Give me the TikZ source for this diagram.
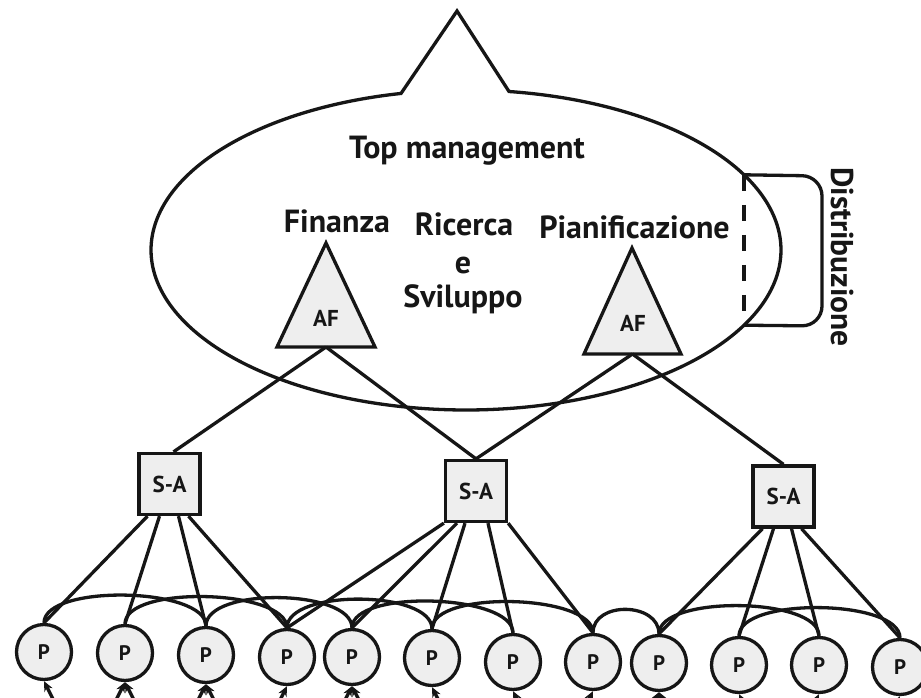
\documentclass[tikz,border=0pt]{standalone}
\usepackage{fontspec}
\setmainfont{PT Sans}
\usetikzlibrary{arrows.meta,calc}
\definecolor{ink}{HTML}{161616}
\definecolor{shade}{HTML}{EEEEEE}
\begin{document}
\begin{tikzpicture}[x=1pt,y=-1pt,line width=3.3pt,draw=ink,
  lbl/.style={font=\bfseries\fontsize{32}{34}\selectfont, anchor=base, inner sep=0pt, text=ink},
  aflbl/.style={font=\bfseries\fontsize{23}{23}\selectfont, inner sep=0pt, text=ink},
  sabox/.style={draw=ink, fill=shade, minimum size=61pt, inner sep=0pt,
    font=\bfseries\fontsize{23}{23}\selectfont, text=ink},
  pcirc/.style={circle, draw=ink, fill=shade, minimum size=55pt, inner sep=0pt,
    font=\bfseries\fontsize{21}{21}\selectfont, text=ink},
  link/.style={draw=ink},
  tie/.style={draw=ink},
  feed/.style={draw=ink, -{Stealth[length=10pt,width=9pt]}}]
\useasboundingbox (0,0) rectangle (921,698);
\clip (0,0) rectangle (921,698);
\fill[white] (0,0) rectangle (921,698);

% top management: ellipse with a spike on top
\draw[line join=miter] (457,11) -- (509.0,91.5)
  -- plot[domain=-82.15:258.1, samples=240, smooth] ({466+315*cos(\x)},{250+160*sin(\x)})
  -- cycle;

% distribution: dashed chord and bracket
\coordinate (dtop) at (744,174.8);
\coordinate (dbot) at (744,325.2);
\draw[dash pattern=on 16pt off 14pt] (dtop) -- (dbot);
\draw[rounded corners=20pt] (dtop) -- (822,176) -- (822,326) -- (dbot);
\node[font=\bfseries\fontsize{31.5}{33}\selectfont, rotate=-90, inner sep=0pt, text=ink] (distr) at (842,257) {Distribuzione};

% labels inside the ellipse
\node[lbl] (top) at (467,158) {Top management};
\node[lbl] (fin) at (337,232) {Finanza};
\node[lbl] (ric) at (464,235) {Ricerca};
\node[lbl] (ric2) at (463,273) {e};
\node[lbl] (ric3) at (463,307) {Sviluppo};
\node[lbl] (pian) at (634.5,238) {Pianificazione};

% staff triangles
\filldraw[fill=shade, line join=miter] (326,243) -- (375,347) -- (277,347) -- cycle;
\filldraw[fill=shade, line join=miter] (632,248) -- (681,354) -- (584,354) -- cycle;
\node[aflbl] (afL) at (326,318) {AF};
\node[aflbl] (afR) at (633,323) {AF};
\coordinate (afLb) at (326,347);
\coordinate (afRb) at (632.5,354);

% intermediate units
\node[sabox] (saL) at (169.5,484) {S-A};
\node[sabox] (saM) at (476,491) {S-A};
\node[sabox] (saR) at (783.5,496.5) {S-A};

\draw[link] (afLb) -- ([xshift=4pt]saL.north);
\draw[link] (afLb) -- (saM.north);
\draw[link] (afRb) -- (saM.north);
\draw[link] (afRb) -- (saR.north);

% operating units
\foreach \n/\x/\y in {1/44/652, 2/125/653, 3/206/655, 4/287/657, 5/352/657, 6/432/658,
                     7/513/662, 8/593/662, 9/659/663, 10/739/665, 11/819/665, 12/900/667}
  \node[pcirc] (P\n) at (\x,\y) {P};

% links from the units to the operating cores
\draw[link] ([xshift=-22pt]saL.south) -- (P1.north);
\draw[link] ([xshift=-10pt]saL.south) -- (P2.north);
\draw[link] ([xshift=9pt]saL.south) -- (P3.north);
\draw[link] ([xshift=19pt]saL.south) -- (P4.north);
\draw[link] (saM.south west) -- (P4.north);
\draw[link] ([xshift=-19pt]saM.south) -- (P5.north);
\draw[link] ([xshift=-11pt]saM.south) -- (P6.north);
\draw[link] ([xshift=12pt]saM.south) -- (P7.north);
\draw[link] (saM.south east) -- (P8.north);
\draw[link] ([xshift=-21pt]saR.south) -- (P9.north);
\draw[link] ([xshift=-10pt]saR.south) -- (P10.north);
\draw[link] ([xshift=8pt]saR.south) -- (P11.north);
\draw[link] ([xshift=18pt]saR.south) -- (P12.north);

% arcs tying the operating cores together
\foreach \a/\b in {1/3, 2/4, 3/5, 4/6, 5/7, 6/8, 9/11, 10/12}
  \draw[tie] (P\a.north) .. controls +(0,-39) and +(0,-39) .. (P\b.north);
\draw[tie] (P8.north) .. controls +(0,-32) and +(0,-32) .. (P9.north);

% inputs entering the cores from below
\foreach \n/\dx in {1/20, 2/-20, 2/20, 3/-20, 3/20, 4/-20, 5/-20, 5/20, 6/20, 7/20,
                   8/-20, 9/-20, 9/20, 10/20, 11/-20, 12/-20}
  \draw[feed] ($(P\n.south)+(\dx,40)$) coordinate (in\n) -- (P\n.south);
\end{tikzpicture}
\end{document}
